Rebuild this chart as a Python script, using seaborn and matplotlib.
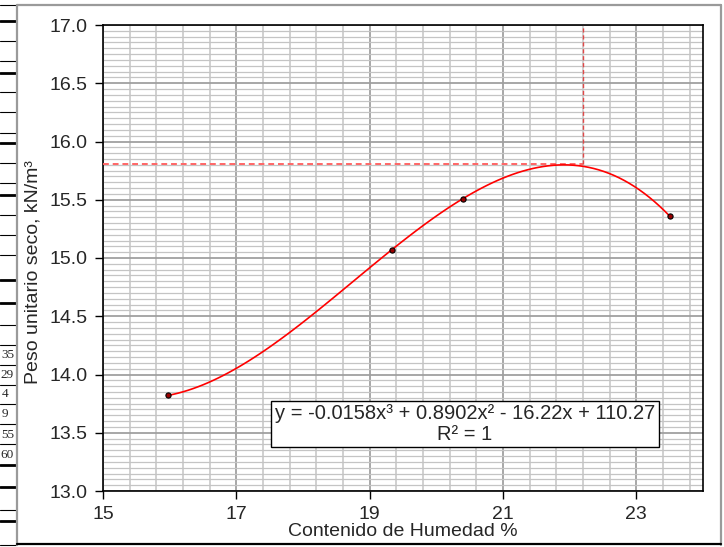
import numpy as np
import pandas as pd
import matplotlib
matplotlib.use("Agg")
import matplotlib.pyplot as plt
from matplotlib.lines import Line2D
from matplotlib.ticker import MultipleLocator, FixedLocator
import seaborn as sns

# ---- data ----
humedad = [15.97, 19.33, 20.40, 23.50]          # Contenido de Humedad %
peso_seco = [13.82, 15.07, 15.51, 15.36]        # Peso unitario seco, kN/m3
omc = 22.2                                      # humedad optima (linea vertical)
mdd = 15.81                                     # peso unitario seco maximo
ecuacion = "y = -0.0158x³ + 0.8902x² - 16.22x + 110.27\nR² = 1"
xlim = (15, 24)
ylim = (13.0, 17.0)
xticks = [15, 17, 19, 21, 23]
yticks = [13.0, 13.5, 14.0, 14.5, 15.0, 15.5, 16.0, 16.5, 17.0]
x_label = "Contenido de Humedad %"
y_label = "Peso unitario seco, kN/m³"
celdas_izq = ["35", "29", "4", "9", "55", "60"]

df = pd.DataFrame({"humedad": humedad, "peso": peso_seco})

sns.set_style("white")
plt.rcParams['font.family'] = ['Liberation Sans', 'DejaVu Sans']

W, H = 724, 547
fig = plt.figure(figsize=(W / 100, H / 100), dpi=100)

def px(x0, y0, x1, y1):
    return [x0 / W, x1 / W], [1 - y0 / H, 1 - y1 / H]

# ---- spreadsheet fragments at the left ----
thin_rows = [5, 41, 61, 92, 112, 133, 163, 183, 215, 235, 255, 325, 345, 365,
             385, 404, 424, 444, 510, 545]
thick_rows = [21, 73, 143, 195, 280, 303, 465, 487, 521]
for y in thin_rows:
    xs, ys = px(0, y, 16, y)
    fig.add_artist(Line2D(xs, ys, color="black", lw=0.8, transform=fig.transFigure))
for y in thick_rows:
    xs, ys = px(0, y, 16, y)
    fig.add_artist(Line2D(xs, ys, color="black", lw=2.0, transform=fig.transFigure))
cell_y = [355, 375, 394, 414, 435, 455]
cell_x = [14, 14, 8, 8, 14, 14]
for t, cx, cy in zip(celdas_izq, cell_x, cell_y):
    fig.text(cx / W, 1 - cy / H, t, ha="right", va="center", fontsize=9.5,
             family=["Liberation Serif", "DejaVu Serif"])

# ---- chart frame ----
for (x0, y0, x1, y1, c, lw) in [(17, 5, 721, 5, "#9a9a9a", 1.6),
                                 (17, 5, 17, 545, "#9a9a9a", 1.6),
                                 (721, 5, 721, 545, "#9a9a9a", 1.6),
                                 (17, 544, 721, 544, "black", 1.6)]:
    xs, ys = px(x0, y0, x1, y1)
    fig.add_artist(Line2D(xs, ys, color=c, lw=lw, transform=fig.transFigure))

ax = fig.add_axes([103 / W, (H - 491) / H, 600 / W, 466 / H])
ax.set_xlim(*xlim)
ax.set_ylim(*ylim)

# grid
ax.xaxis.set_major_locator(FixedLocator(xticks))
ax.xaxis.set_minor_locator(FixedLocator(np.arange(xlim[0], xlim[1] + 0.01, 0.4)))
ax.yaxis.set_major_locator(FixedLocator(yticks))
ax.yaxis.set_minor_locator(MultipleLocator(0.05))
ax.grid(which="minor", axis="y", color="#c4c4c4", lw=0.9)
ax.grid(which="minor", axis="x", color="#c8c8c8", lw=1.2)
ax.grid(which="major", color="#a0a0a0", lw=1.3)
ax.set_axisbelow(True)
ax.set_xticklabels([str(v) for v in xticks])
ax.set_yticklabels([f"{v:.1f}" for v in yticks])
ax.tick_params(which="major", direction="out", length=6, width=1.0, color="black",
               labelsize=14, pad=5, left=True, bottom=True)
ax.tick_params(which="minor", length=0)

for s in ax.spines.values():
    s.set_color("black")
    s.set_linewidth(1.2)

# reference lines
ax.plot([xlim[0], omc], [mdd, mdd], color="#ff6666", lw=1.4, ls=(0, (3, 2)), zorder=3)
ax.plot([omc, omc], [mdd, ylim[1]], color="#e04848", lw=1.0, ls=(0, (3, 2)), zorder=3)

# cubic trend line + points
sns.regplot(data=df, x="humedad", y="peso", order=3, ci=None, scatter=False,
            truncate=True, line_kws=dict(color="red", lw=1.2, zorder=4), ax=ax)
sns.scatterplot(data=df, x="humedad", y="peso", color="#990000", edgecolor="black",
                linewidth=0.8, s=14, zorder=5, ax=ax, legend=False)

ax.set_xlim(*xlim)
ax.set_ylim(*ylim)
ax.set_xlabel(x_label, fontsize=14)
ax.set_ylabel(y_label, fontsize=14)
ax.xaxis.set_label_coords(0.5, -0.068)
ax.yaxis.set_label_coords(-0.103, 0.47)

ax.text(20.43, 13.575, ecuacion, ha="center", va="center", fontsize=14.5,
        linespacing=1.1, zorder=6,
        bbox=dict(boxstyle="square,pad=0.18", fc="white", ec="black", lw=1.0))

fig.savefig("out.png", dpi=100)
